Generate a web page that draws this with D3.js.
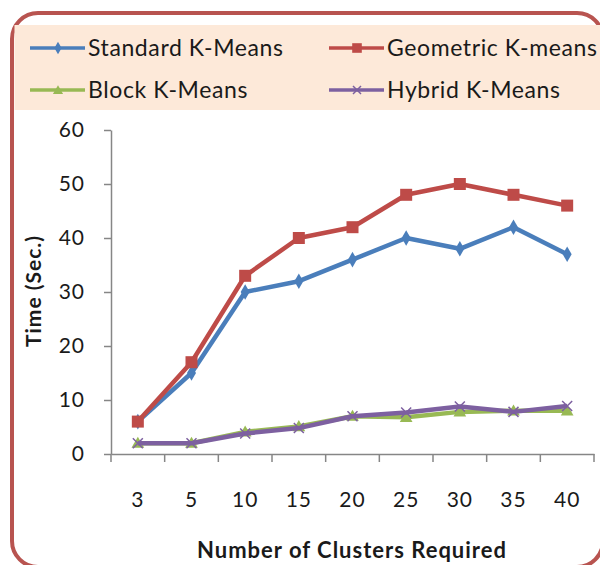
<!DOCTYPE html>
<html><head><meta charset="utf-8">
<script src="https://cdn.jsdelivr.net/npm/d3@7"></script>
<style>html,body{margin:0;padding:0;background:#fff;overflow:hidden}</style>
</head><body>
<svg id="c" width="600" height="565"></svg>
<script>
const categories = ["3","5","10","15","20","25","30","35","40"];
const standard = [6, 15, 30, 32, 36, 40, 38, 42, 37];
const geometric = [6, 17, 33, 40, 42, 48, 50, 48, 46];
const block = [2, 2, 4.1, 5.1, 7, 6.8, 7.8, 8, 8];
const hybrid = [2, 2, 3.8, 4.8, 7, 7.7, 8.8, 7.8, 8.9];
const seriesNames = ["Standard K-Means","Geometric K-means","Block K-Means","Hybrid K-Means"];
const yTicks = [0,10,20,30,40,50,60];

const colors = ["#4a7ebb","#be4b48","#98b954","#7d60a0"];
const markers = ["diamond","square","triangle","cross"];
const data = [standard, geometric, block, hybrid];
const font = "Lato, 'Open Sans', sans-serif";
const textColor = "#1a1a1a";

const svg = d3.select("#c");
// outer frame
svg.append("rect").attr("x",12).attr("y",13).attr("width",591).attr("height",554)
  .attr("rx",26).attr("fill","#fff").attr("stroke","#b85450").attr("stroke-width",4);
// legend background
svg.append("rect").attr("x",14.5).attr("y",25).attr("width",586).attr("height",85).attr("fill","#fde9d9");

const x = d3.scaleBand().domain(categories).range([111,594]);
const y = d3.scaleLinear().domain([0,60]).range([454,130]);

const axisColor = "#868686";
const yAxis = svg.append("g").attr("transform","translate(111,0)")
  .call(d3.axisLeft(y).tickValues(yTicks).tickSize(7).tickPadding(19).tickSizeOuter(0));
const xAxis = svg.append("g").attr("transform","translate(0,454)")
  .call(d3.axisBottom(x).tickSize(0).tickPadding(38));
// category boundary ticks
const bounds = categories.map(c=>x(c)).concat([x.range()[1]]);
xAxis.selectAll(".bt").data(bounds).enter().append("line")
  .attr("class","bt").attr("x1",d=>d).attr("x2",d=>d)
  .attr("y1",0).attr("y2",8).attr("stroke",axisColor).attr("stroke-width",1.5);
[yAxis,xAxis].forEach(g=>{
  g.select(".domain").attr("stroke",axisColor).attr("stroke-width",1.5);
  g.selectAll(".tick line").attr("stroke",axisColor).attr("stroke-width",1.5);
  g.selectAll(".tick text").attr("font-family",font).attr("font-size",21)
    .attr("letter-spacing","1px").attr("fill",textColor);
});

const line = d3.line().x((d,i)=>x(categories[i])+x.bandwidth()/2).y(d=>y(d));

function drawMarker(g, type, color, cx, cy, k){
  k = k || 1;
  if(type==="diamond"){
    g.append("path").attr("d",d3.symbol(d3.symbolDiamond,70*k*k)()).attr("transform",`translate(${cx},${cy})`).attr("fill",color);
  } else if(type==="square"){
    const h = 6*k;
    g.append("rect").attr("x",cx-h).attr("y",cy-h).attr("width",2*h).attr("height",2*h).attr("fill",color);
  } else if(type==="triangle"){
    g.append("path").attr("d",d3.symbol(d3.symbolTriangle,70*k*k)()).attr("transform",`translate(${cx},${cy+1})`).attr("fill",color);
  } else {
    const h = 5*k;
    g.append("path").attr("d",`M${cx-h},${cy-h}L${cx+h},${cy+h}M${cx-h},${cy+h}L${cx+h},${cy-h}`)
      .attr("stroke",color).attr("stroke-width",1.5).attr("fill","none");
  }
}

const plot = svg.append("g");
[2,3,0,1].forEach(s=>{
  const g = plot.append("g");
  g.append("path").datum(data[s]).attr("d",line).attr("fill","none")
    .attr("stroke",colors[s]).attr("stroke-width",4.5).attr("stroke-linejoin","round");
  data[s].forEach((v,i)=>drawMarker(g, markers[s], colors[s], x(categories[i])+x.bandwidth()/2, y(v)));
});

// legend
const legPos = [[30,48],[329,48],[30,90],[329,90]];
seriesNames.forEach((n,s)=>{
  const [lx,ly] = legPos[s];
  const g = svg.append("g");
  g.append("line").attr("x1",lx).attr("x2",lx+55).attr("y1",ly).attr("y2",ly)
    .attr("stroke",colors[s]).attr("stroke-width",3.5);
  drawMarker(g, markers[s], colors[s], lx+28, ly, 0.8);
  g.append("text").attr("x",lx+58).attr("y",ly).attr("dy","0.36em")
    .attr("font-family",font).attr("font-size",23).attr("letter-spacing","0.6px")
    .attr("fill",textColor).text(n);
});

// axis titles
svg.append("text").attr("x",352).attr("y",558).attr("text-anchor","middle")
  .attr("font-family",font).attr("font-weight","bold").attr("font-size",22)
  .attr("letter-spacing","1px").attr("fill",textColor)
  .text("Number of Clusters Required");
svg.append("text").attr("transform","translate(41,291) rotate(-90)").attr("text-anchor","middle")
  .attr("font-family",font).attr("font-weight","bold").attr("font-size",21)
  .attr("letter-spacing","1px").attr("fill",textColor)
  .text("Time (Sec.)");
</script>
</body></html>
